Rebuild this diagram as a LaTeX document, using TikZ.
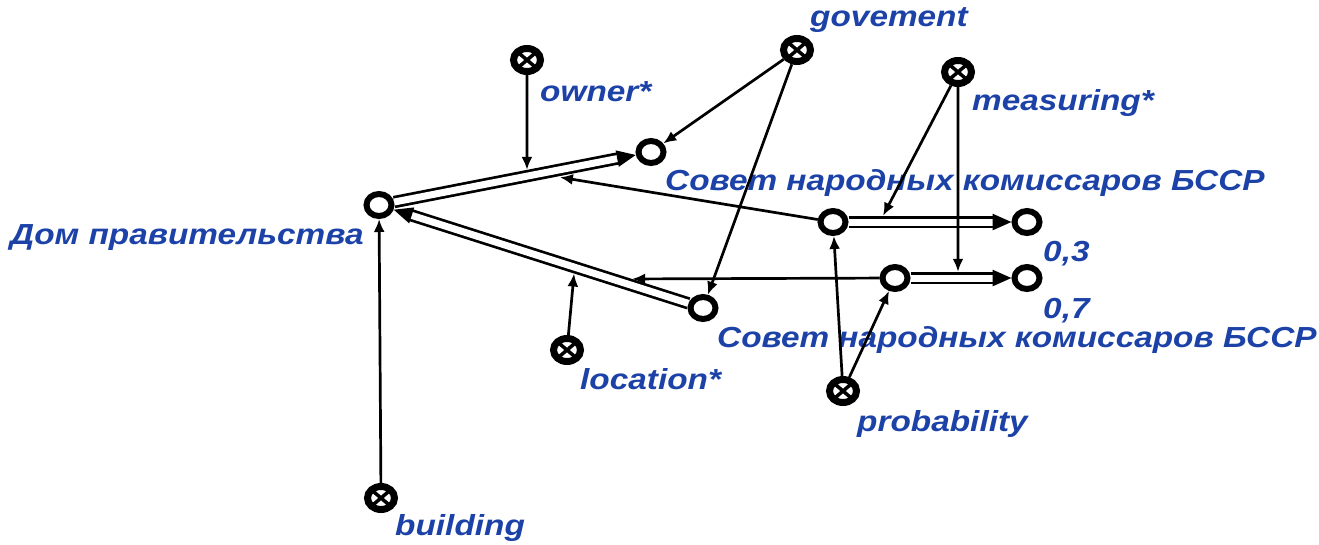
\documentclass[tikz,border=0pt]{standalone}
\usepackage{fontspec}
\setmainfont{Liberation Sans}
\newfontfamily\lblfont[FakeStretch=1.15]{Liberation Sans}
\usetikzlibrary{arrows.meta,calc,shapes.geometric}
\definecolor{lblblue}{RGB}{28,66,168}
\begin{document}
\begin{tikzpicture}[x=1pt,y=-1pt,
  elem/.style={ellipse,draw,line width=6pt,minimum width=25pt,minimum height=22pt,inner sep=0pt,fill=white},
  cls/.style={ellipse,draw,line width=7pt,minimum width=27pt,minimum height=23pt,inner sep=0pt,fill=white,
    path picture={\draw[line width=3.5pt] (path picture bounding box.north west) -- (path picture bounding box.south east)
      (path picture bounding box.north east) -- (path picture bounding box.south west);}},
  lbl/.style={text=lblblue,font=\lblfont\bfseries\itshape\fontsize{29}{29}\selectfont,inner sep=0pt,anchor=base west},
  arcl/.style={line width=2.7pt,-{Latex[length=13pt,width=11pt]}},
  pair/.style={double=white,double distance=7pt,line width=2.7pt,-{Triangle[length=19pt,width=16pt]}},
]
\useasboundingbox (0,0) rectangle (1319,544);

% nodes
\node[elem] (dom) at (379,205) {};
\node[cls] (owner) at (527,60) {};
\node[elem] (gov1) at (651,152) {};
\node[cls] (govement) at (797,50) {};
\node[cls] (measuring) at (958,72) {};
\node[elem] (sov1) at (833,222) {};
\node[elem] (sov2) at (895,278) {};
\node[elem] (n03) at (1027,222) {};
\node[elem] (n07) at (1027,278) {};
\node[elem] (gov2) at (703,308) {};
\node[cls] (location) at (567,350) {};
\node[cls] (probability) at (843,391) {};
\node[cls] (building) at (381,498) {};

% labels
\node[lbl] (tdom) at (10,244) {Дом правительства};
\node[lbl] (towner) at (540,101) {owner*};
\node[lbl] (tgovement) at (810,26) {govement};
\node[lbl] (tmeasuring) at (972,110) {measuring*};
\node[lbl] (tgov1) at (665,190) {Совет народных комиссаров БССР};
\node[lbl] (t03) at (1043,261) {0,3};
\node[lbl] (t07) at (1043,318) {0,7};
\node[lbl] (tgov2) at (717,347) {Совет народных комиссаров БССР};
\node[lbl] (tlocation) at (580,389) {location*};
\node[lbl] (tprobability) at (857,431) {probability};
\node[lbl] (tbuilding) at (395,535) {building};

% points on pair arcs
\coordinate (p1) at ($(dom)!0.544!(gov1)+(0,-6.3)$);
\coordinate (p2) at ($(dom)!0.665!(gov1)+(0,7.5)$);
\coordinate (p3) at ($(dom)!0.602!(gov2)+(0,6.5)$);
\coordinate (p4) at ($(dom)!0.718!(gov2)+(20.5,0)$);
\coordinate (p5) at ($(sov1)!0.258!(n03)+(0,-6.2)$);
\coordinate (p6) at ($(sov2)!0.477!(n07)+(0,-6.2)$);

% pair arcs
\draw[pair] (dom) -- (gov1);
\draw[pair] (gov2) -- (dom);
\draw[pair] (sov1) -- (n03);
\draw[pair] (sov2) -- (n07);

% single arcs
\draw[arcl] (owner) -- (p1);
\draw[arcl] (sov1) -- (p2);
\draw[arcl] (location) -- (p3);
\draw[arcl] (sov2) -- (p4);
\draw[arcl] (measuring) -- (p5);
\draw[arcl] (measuring) -- (p6);
\draw[arcl] (govement) -- (gov1);
\draw[arcl] (govement) -- (gov2);
\draw[arcl] (probability) -- (sov1);
\draw[arcl] (probability) -- (sov2);
\draw[arcl] (building) -- (dom);
\end{tikzpicture}
\end{document}
